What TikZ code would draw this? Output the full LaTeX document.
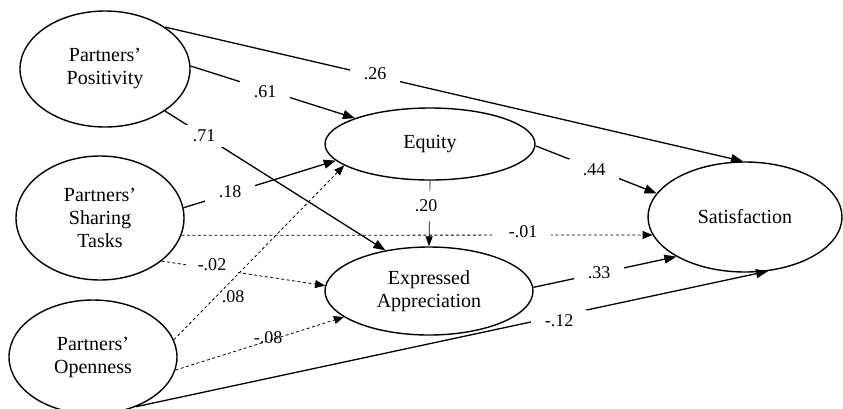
\documentclass[tikz,border=0pt]{standalone}
\usepackage{fontspec}
\setmainfont{Liberation Serif}
\usetikzlibrary{shapes.geometric,arrows.meta}
\begin{document}
\begin{tikzpicture}[x=1pt,y=-1pt,
  var/.style={ellipse,draw,line width=1.4pt,inner sep=0pt,align=center,font=\fontsize{20}{23}\selectfont},
  solidarr/.style={line width=1.3pt,-{Triangle[length=12pt,width=9pt]}},
  dasharr/.style={line width=0.8pt,dash pattern=on 3pt off 2.5pt,-{Triangle[length=10pt,width=8pt]}},
  thinarr/.style={line width=0.7pt,-{Triangle[length=10pt,width=7pt]}},
  lbl/.style={fill=white,inner xsep=14pt,inner ysep=5pt,font=\fontsize{18}{20}\selectfont},
  lblnf/.style={inner sep=1pt,font=\fontsize{18}{20}\selectfont}]
\useasboundingbox (0,0) rectangle (843,408);
\node[var,minimum width=170pt,minimum height=116pt] (pos) at (105,69) {Partners'\\Positivity};
\node[var,minimum width=168pt,minimum height=124pt] (sha) at (100,218) {Partners'\\Sharing\\Tasks};
\node[var,minimum width=168pt,minimum height=114pt] (ope) at (93,357) {Partners'\\Openness};
\node[var,minimum width=210pt,minimum height=72pt] (equ) at (430,144) {Equity};
\node[var,minimum width=208pt,minimum height=88pt] (exp) at (429,291) {Expressed\\Appreciation};
\node[var,minimum width=194pt,minimum height=110pt] (sat) at (745,217) {Satisfaction};
% connectors
\draw[solidarr] (pos.35) -- (sat.92);
\draw[solidarr] (pos.2) -- (equ.161);
\draw[solidarr] (pos.-35) -- (exp.137);
\draw[solidarr] (sha.7.5) -- (equ.-170);
\draw[dasharr] (sha.-12) -- (sat.-169.5);
\draw[dasharr] (sha.-35.6) -- (exp.177);
\draw[dasharr] (ope.12) -- (equ.-166);
\draw[dasharr] (ope.-9) -- (exp.-163);
\draw[solidarr] (ope.-49) -- (sat.-67);
\draw[solidarr] (equ.-1) -- (sat.165);
\draw[thinarr] (equ.south) -- (exp.north);
\draw[solidarr] (exp.2) -- (sat.-150);
% labels
\node[lbl] (l26) at (375,74) {.26};
\node[lbl] (l61) at (265,92) {.61};
\node[lbl] (l71) at (204,136) {.71};
\node[lbl] (l18) at (230,192) {.18};
\node[lbl] (l01) at (523,232) {-.01};
\node[lbl,inner ysep=3pt,inner xsep=12pt] (l02) at (212,265) {-.02};
\node[lblnf] (l08a) at (233,297) {.08};
\node[lblnf] (l08b) at (268,338) {-.08};
\node[lbl] (l12) at (559,321) {-.12};
\node[lbl] (l44) at (594,170) {.44};
\node[lbl,inner xsep=3pt,inner ysep=9pt] (l20) at (426,206) {.20};
\node[lbl] (l33) at (599,273) {.33};
\end{tikzpicture}
\end{document}
